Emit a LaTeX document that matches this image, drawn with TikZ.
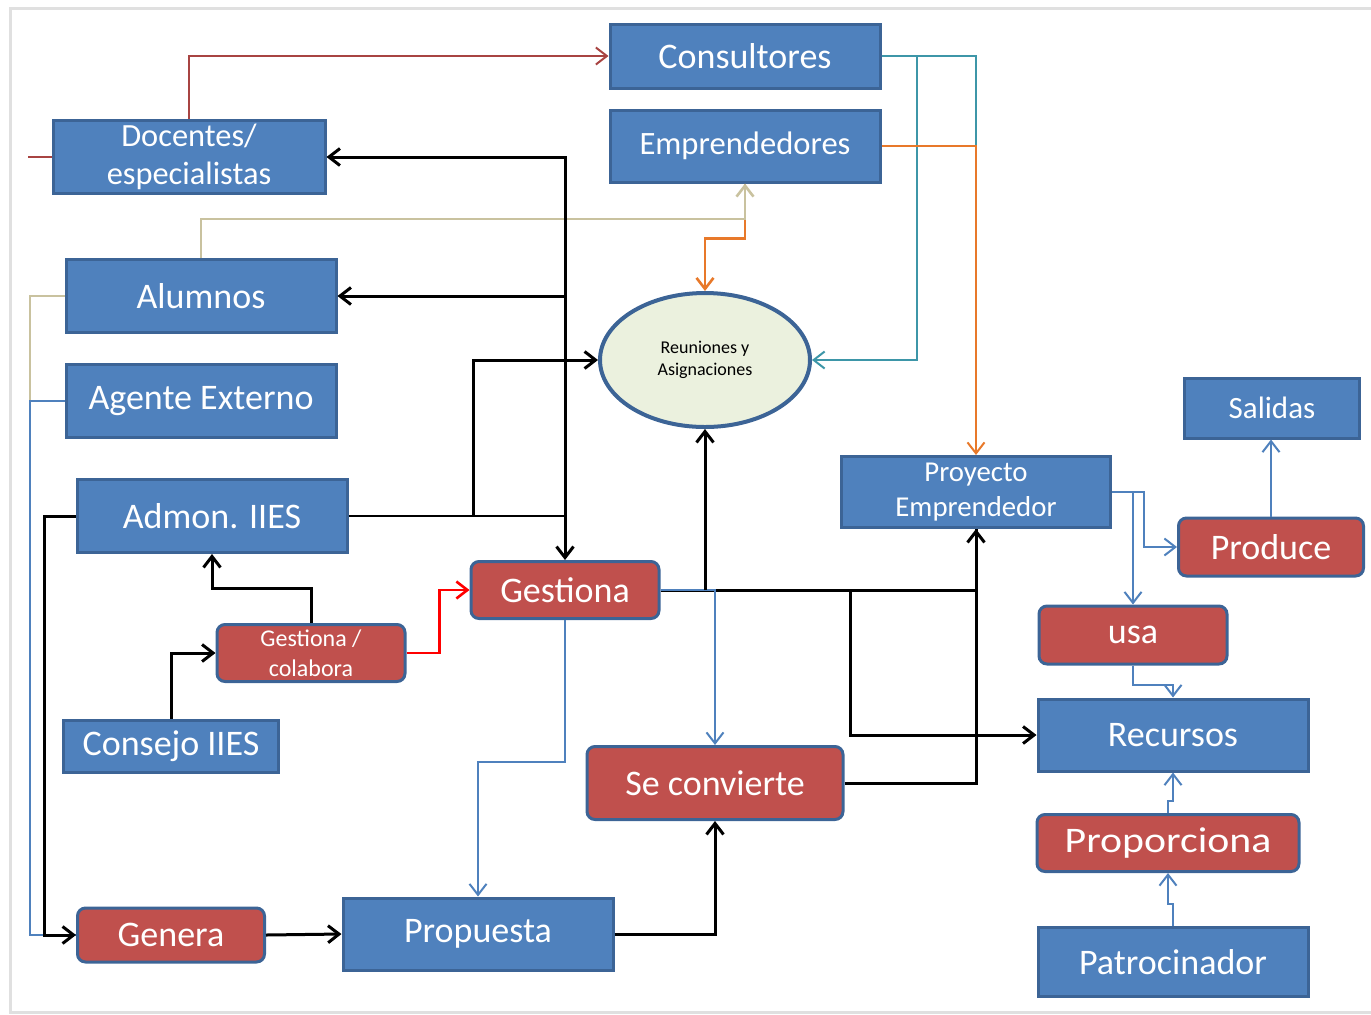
\documentclass[tikz,border=0pt]{standalone}
\usepackage{fontspec}
\setmainfont{Carlito}
\usetikzlibrary{arrows.meta,shapes.geometric}
\definecolor{azul}{HTML}{4F81BD}
\definecolor{azulborde}{HTML}{3C6496}
\definecolor{rojo}{HTML}{C0504D}
\definecolor{crema}{HTML}{EBF1DE}
\definecolor{granate}{HTML}{A84442}
\definecolor{beige}{HTML}{C9C29F}
\definecolor{naranja}{HTML}{E8792A}
\definecolor{turquesa}{HTML}{3D96A8}
\definecolor{azulflecha}{HTML}{4F81BD}
\tikzset{
  caja/.style={draw=azulborde, fill=azul, line width=1.5pt, text=white,
    inner sep=0pt, align=center, font=\fontsize{18}{20}\selectfont},
  accion/.style={caja, fill=rojo, rounded corners=4pt},
  enlace/.style={line width=1.5pt, -{Straight Barb[length=5.5pt,width=8.5pt]}},
  fino/.style={line width=1pt},
}
\begin{document}
\begin{tikzpicture}[x=0.5pt,y=-0.5pt]
    \useasboundingbox (0,0) rectangle (1371,1014);
    \draw[black!12, line width=1.5pt] (1371,8) -- (10,8) -- (10,1012) -- (1371,1012);
    %% Actores
    \node[caja, minimum width=135pt, minimum height=32pt] (consultores) at (745,56) {Consultores};
    \node[caja, minimum width=135pt, minimum height=36pt,
        font=\fontsize{16.3}{20}\selectfont] (emprendedores) at (745,146) {Emprendedores};
    \node[caja, minimum width=136pt, minimum height=36.5pt,
        font=\fontsize{16.2}{19}\selectfont] (docentes) at (189,157) {Docentes/\\especialistas};
    \node[caja, minimum width=135pt, minimum height=36.5pt] (alumnos) at (201,296) {Alumnos};
    \node[caja, minimum width=135pt, minimum height=36.5pt] (agente) at (201,401) {Agente Externo};
    \node[caja, minimum width=135pt, minimum height=36.5pt] (admon) at (212,516) {Admon. IIES};
    \node[caja, minimum width=107.5pt, minimum height=26pt] (consejo) at (171,746) {Consejo IIES};
    \node[caja, minimum width=135pt, minimum height=36pt] (propuesta) at (478,934) {Propuesta};
    \node[caja, minimum width=134.5pt, minimum height=35.5pt,
        font=\fontsize{14.4}{17.5}\selectfont] (proyecto) at (976,492) {Proyecto\\Emprendedor};
    \node[caja, minimum width=87.5pt, minimum height=30pt,
        font=\fontsize{15.5}{18}\selectfont] (salidas) at (1272,408) {Salidas};
    \node[caja, minimum width=135pt, minimum height=36pt] (recursos) at (1173,735) {Recursos};
    \node[caja, minimum width=135pt, minimum height=34.5pt] (patrocinador) at (1173,962) {Patrocinador};
    %% Acciones
    \node[accion, minimum width=94pt, minimum height=28.5pt] (gestiona) at (565,590) {Gestiona};
    \node[accion, minimum width=94pt, minimum height=28.5pt,
        font=\fontsize{12}{15}\selectfont] (colabora) at (311,653) {Gestiona /\\colabora};
    \node[accion, minimum width=93.5pt, minimum height=27pt] (genera) at (171,935) {Genera};
    \node[accion, minimum width=128pt, minimum height=36.5pt] (seconvierte) at (715,783) {Se convierte};
    \node[accion, minimum width=92.5pt, minimum height=29pt] (produce) at (1271,547) {Produce};
    \node[accion, minimum width=94pt, minimum height=29pt] (usa) at (1133,635) {usa};
    \node[accion, minimum width=131pt, minimum height=28.5pt,
        font=\fontsize{18}{20}\selectfont\addfontfeature{FakeStretch=1.16}] (proporciona) at (1168,843) {Proporciona};
    \node[ellipse, draw=azulborde, fill=crema, line width=2pt, minimum width=105pt,
        minimum height=67pt, align=center, font=\fontsize{9}{11}\selectfont]
        (reuniones) at (705,360) {Reuniones y\\Asignaciones};
    %% Docentes y Consultores
    \coordinate (borde) at (28,157);
    \draw[granate, fino] (borde) -- (docentes.west);
    \draw[enlace, granate, fino] (docentes.north) |- (consultores.west);
    %% Consultores y Emprendedores
    \draw[turquesa, fino] (consultores.east) -| (emprendedores.east -| proyecto.north);
    \draw[enlace, turquesa, fino] (consultores.east) -- ++(35,0) |- (reuniones.east);
    \draw[enlace, naranja, fino] (emprendedores.east) -| (proyecto.north);
    \draw[enlace, naranja, line width=1.3pt] (emprendedores.south) -- ++(0,55) -| (reuniones.north);
    %% Alumnos y Agente Externo
    \coordinate (lateral) at (30,401);
    \draw[enlace, beige, line width=1.3pt] (alumnos.north) -- ++(0,-39) -| (emprendedores.south);
    \draw[beige, fino] (alumnos.west) -| (lateral);
    \draw[azulflecha, fino] (agente.west) -- (lateral) |- (genera.west);
    %% Admon. IIES
    \coordinate (nudo) at (gestiona.north |- admon.east);
    \coordinate (nudoR) at (473,516);
    \draw[line width=0.8pt] (admon.east) -- (nudo);
    \draw[enlace] (nudo) -- (gestiona.north);
    \draw[enlace] (nudo) |- (docentes.east);
    \draw[enlace] (nudo |- alumnos.east) -- (alumnos.east);
    \draw[enlace] (nudoR) |- (reuniones.west);
    \draw[enlace] (admon.west) -- ++(-31,0) |- (genera.west);
    %% Gestiona
    \coordinate (ramal) at (850,590);
    \draw[enlace] (gestiona.east) -| (proyecto.south);
    \draw[enlace, azulflecha, fino] (gestiona.east) -| (seconvierte.north);
    \draw[enlace] (reuniones.south |- gestiona.east) -- (reuniones.south);
    \draw[enlace] (ramal) |- (recursos.west);
    \draw[line width=1.5pt] (seconvierte.east) -| (proyecto.south);
    \draw[enlace, azulflecha, fino] (gestiona.south) -- ++(0,142) -| (propuesta.north);
    %% Consejo y propuesta
    \draw[enlace] (consejo.north) |- (colabora.west);
    \draw[enlace] (colabora.north) -- ++(0,-35) -| (admon.south);
    \draw[enlace, red, line width=1.3pt] (colabora.east) -- ++(33,0) |- (gestiona.west);
    \draw[enlace] (genera.east) -- (propuesta.west);
    \draw[enlace] (propuesta.east) -| (seconvierte.south);
    %% Proyecto y recursos
    \draw[enlace, azulflecha, fino] (proyecto.east) -- ++(32,0) |- (produce.west);
    \draw[enlace, azulflecha, fino] (proyecto.east) -| (usa.north);
    \draw[enlace, azulflecha, fino] (produce.north) -- (produce.north |- salidas.south);
    \draw[enlace, azulflecha, fino] (usa.south) -- ++(0,19) -| (recursos.north);
    \draw[enlace, azulflecha, fino] (proporciona.north) -- ++(0,-12) -| (recursos.south);
    \draw[enlace, azulflecha, fino] (patrocinador.north) -- ++(0,-22) -| (proporciona.south);
\end{tikzpicture}
\end{document}
